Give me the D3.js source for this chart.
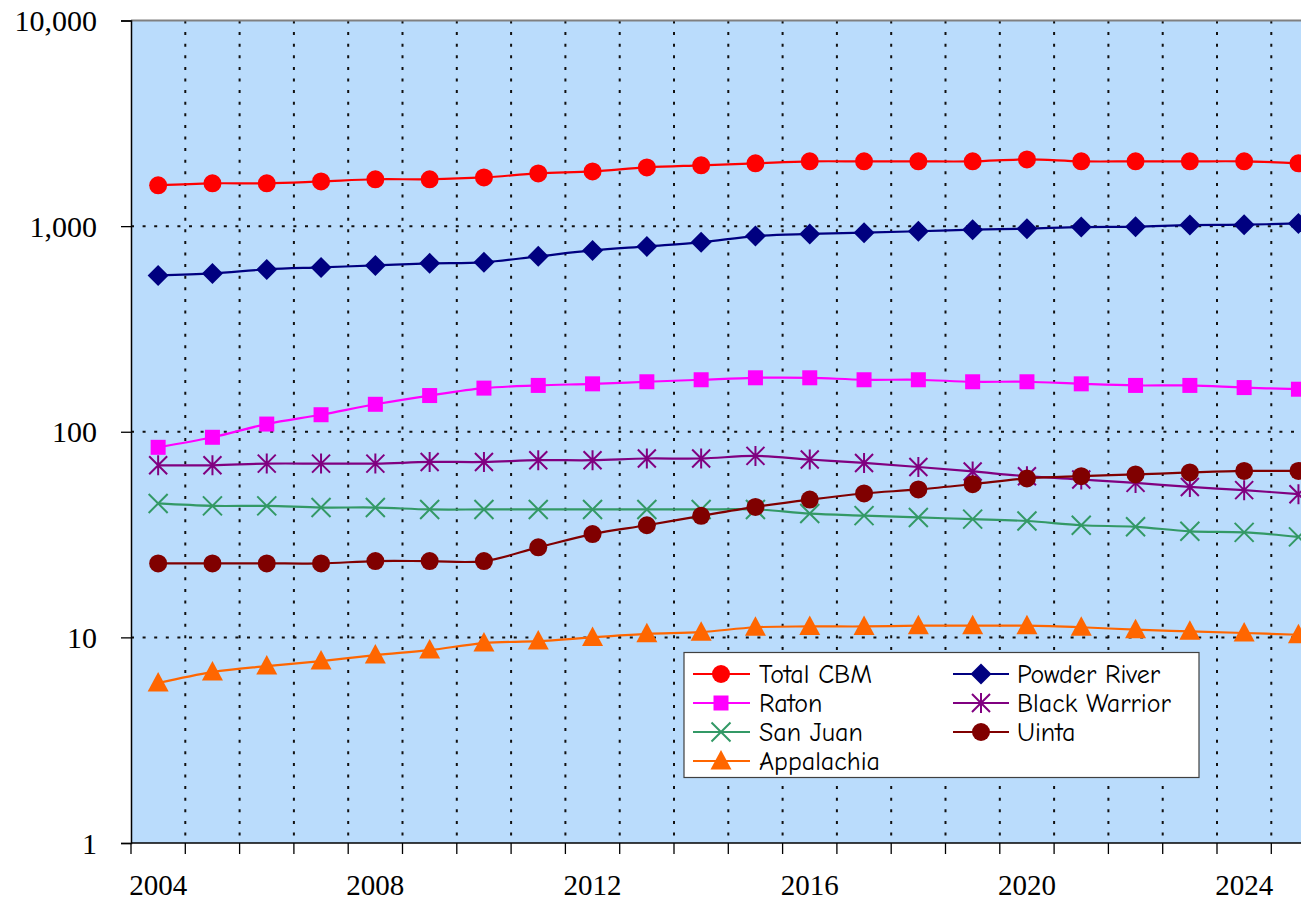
<!DOCTYPE html>
<html>
<head>
<meta charset="utf-8">
<script src="https://cdn.jsdelivr.net/npm/d3@7"></script>
<style>
  html, body { margin: 0; padding: 0; background: #ffffff; overflow: hidden; }
  svg { display: block; }
</style>
</head>
<body>
<svg id="chart" width="1301" height="903"></svg>
<script>
// ---------------- DATA ----------------
const years = [2004,2005,2006,2007,2008,2009,2010,2011,2012,2013,2014,2015,2016,2017,2018,2019,2020,2021,2022,2023,2024,2025];
const yearLabels = [2004, 2008, 2012, 2016, 2020, 2024];
const yTickValues = [1, 10, 100, 1000, 10000];

const totalCBM     = [1580,1615,1615,1650,1690,1690,1725,1805,1845,1930,1975,2020,2065,2065,2065,2065,2110,2065,2065,2065,2065,2020];
const powderRiver  = [576,589,616,630,644,659,667,713,762,797,834,895,916,929,944,961,972,989,994,1012,1016,1031];
const raton        = [84,94,109,121,136,150,163,168,171,175,179,183,183,179,179,175,175,171,168,168,164,161];
const blackWarrior = [68.7,68.7,70,70,70,71.3,71.3,72.7,72.7,74.1,74.1,76.3,73.3,70.5,67.4,64.1,60.8,58.6,56.4,53.9,52,49.7];
const sanJuan      = [44.8,43.6,43.6,42.8,42.8,41.9,41.9,41.9,41.9,41.9,41.9,41.9,40,39.1,38.3,37.6,36.8,35.1,34.5,32.8,32.4,30.8];
const uinta        = [22.9,22.9,22.9,22.9,23.5,23.5,23.5,27.4,31.8,35.1,39,43.1,46.8,50.1,52.4,55.6,59.3,60.8,62,63.4,64.5,64.5];
const appalachia   = [6.0,6.78,7.25,7.67,8.2,8.67,9.38,9.59,10.0,10.4,10.6,11.2,11.3,11.3,11.4,11.4,11.4,11.2,10.9,10.7,10.5,10.3];

const seriesNames  = ["Total CBM","Powder River","Raton","Black Warrior","San Juan","Uinta","Appalachia"];
const seriesValues = [totalCBM, powderRiver, raton, blackWarrior, sanJuan, uinta, appalachia];

// ---------------- STYLES ----------------
const seriesColors  = ["#ff0000","#000080","#ff00ff","#800080","#339966","#800000","#ff6600"];
const seriesMarkers = ["circle","diamond","square","asterisk","cross","circle","triangle"];

// ---------------- LAYOUT ----------------
const plotLeft = 131, plotTop = 20.5, plotBottom = 843, catWidth = 54.3;
const plotRight = plotLeft + catWidth * years.length;

const svg = d3.select("#chart");

const x = d3.scaleBand().domain(years).range([plotLeft, plotRight]).padding(0);
const y = d3.scaleLog().domain([1, 10000]).range([plotBottom, plotTop]);
const cx = d => x(d) + x.bandwidth() / 2;

// background
svg.append("rect")
  .attr("x", plotLeft).attr("y", plotTop)
  .attr("width", plotRight - plotLeft).attr("height", plotBottom - plotTop)
  .attr("fill", "#badcfc");

// grid lines
const grid = svg.append("g").attr("stroke", "#111").attr("stroke-width", 2)
  .attr("stroke-dasharray", "3,8.6").attr("fill", "none");
grid.selectAll("line.v").data(years.slice(1)).join("line")
  .attr("class", "v")
  .attr("x1", d => x(d)).attr("x2", d => x(d))
  .attr("y1", plotTop).attr("y2", plotBottom);
grid.selectAll("line.h").data([10, 100, 1000]).join("line")
  .attr("class", "h")
  .attr("x1", plotLeft).attr("x2", plotRight)
  .attr("y1", d => y(d)).attr("y2", d => y(d));

// top border
svg.append("line")
  .attr("x1", plotLeft).attr("x2", plotRight)
  .attr("y1", plotTop).attr("y2", plotTop)
  .attr("stroke", "#808080").attr("stroke-width", 2);

// ---------------- AXES ----------------
const yAxis = d3.axisLeft(y).tickValues(yTickValues).tickFormat(d3.format(",")).tickSize(10).tickPadding(24);
const gy = svg.append("g").attr("transform", `translate(${plotLeft},0)`).call(yAxis);
gy.select(".domain").attr("stroke", "#000").attr("stroke-width", 1.5);
gy.selectAll(".tick line").attr("stroke", "#000").attr("stroke-width", 1.3);
gy.selectAll(".tick text")
  .attr("font-family", "'Liberation Serif','Times New Roman',serif")
  .attr("font-size", 30).attr("fill", "#000").attr("dy", "0.34em");

// x axis line
svg.append("line")
  .attr("x1", plotLeft).attr("x2", plotRight)
  .attr("y1", plotBottom).attr("y2", plotBottom)
  .attr("stroke", "#000").attr("stroke-width", 1.5);
// x ticks at category boundaries
svg.append("g").selectAll("line").data(years).join("line")
  .attr("x1", d => x(d)).attr("x2", d => x(d))
  .attr("y1", plotBottom).attr("y2", plotBottom + 11)
  .attr("stroke", "#000").attr("stroke-width", 1.3);
// x labels
svg.append("g").selectAll("text").data(yearLabels).join("text")
  .attr("x", d => cx(d)).attr("y", 895)
  .attr("text-anchor", "middle")
  .attr("font-family", "'Liberation Serif','Times New Roman',serif")
  .attr("font-size", 29).attr("fill", "#000")
  .text(d => d);

// ---------------- MARKERS ----------------
function drawMarker(g, type, px, py, color) {
  if (type === "circle") {
    g.append("circle").attr("cx", px).attr("cy", py).attr("r", 9).attr("fill", color);
  } else if (type === "square") {
    g.append("rect").attr("x", px - 7.5).attr("y", py - 7.5).attr("width", 15).attr("height", 15).attr("fill", color);
  } else if (type === "diamond") {
    const s = 10.5;
    g.append("path").attr("d", `M${px},${py - s}L${px + s},${py}L${px},${py + s}L${px - s},${py}Z`).attr("fill", color);
  } else if (type === "triangle") {
    g.append("path").attr("d", `M${px},${py - 11}L${px + 10.5},${py + 8.5}L${px - 10.5},${py + 8.5}Z`).attr("fill", color);
  } else if (type === "asterisk") {
    const s = 10;
    g.append("path").attr("d",
      `M${px},${py - s}L${px},${py + s}M${px - s * 0.9},${py - s * 0.9}L${px + s * 0.9},${py + s * 0.9}M${px - s * 0.9},${py + s * 0.9}L${px + s * 0.9},${py - s * 0.9}`)
      .attr("stroke", color).attr("stroke-width", 2).attr("fill", "none");
  } else if (type === "cross") {
    const s = 9.5;
    g.append("path").attr("d",
      `M${px - s},${py - s}L${px + s},${py + s}M${px - s},${py + s}L${px + s},${py - s}`)
      .attr("stroke", color).attr("stroke-width", 2).attr("fill", "none");
  }
}

// ---------------- SERIES ----------------
const line = d3.line().x(d => cx(d.year)).y(d => y(d.value)).curve(d3.curveCatmullRom.alpha(0));

seriesValues.forEach((vals, i) => {
  const pts = years.map((yr, j) => ({ year: yr, value: vals[j] }));
  const g = svg.append("g");
  g.append("path").datum(pts)
    .attr("d", line)
    .attr("fill", "none")
    .attr("stroke", seriesColors[i])
    .attr("stroke-width", 2.2);
  pts.forEach(p => drawMarker(g, seriesMarkers[i], cx(p.year), y(p.value), seriesColors[i]));
});

// ---------------- LEGEND ----------------
const lg = svg.append("g");
lg.append("rect")
  .attr("x", 684).attr("y", 652.5).attr("width", 515).attr("height", 125)
  .attr("fill", "#fff").attr("stroke", "#404040").attr("stroke-width", 1.2);

const legendCols = [{ x1: 693, x2: 750, mx: 721, tx: 759 }, { x1: 953, x2: 1009, mx: 981, tx: 1017 }];
const legendRows = [674, 703, 732, 761];
seriesNames.forEach((name, i) => {
  const col = legendCols[i % 2];
  const ry = legendRows[Math.floor(i / 2)];
  lg.append("line").attr("x1", col.x1).attr("x2", col.x2).attr("y1", ry).attr("y2", ry)
    .attr("stroke", seriesColors[i]).attr("stroke-width", 2.2);
  drawMarker(lg, seriesMarkers[i], col.mx, ry, seriesColors[i]);
  lg.append("text").attr("x", col.tx).attr("y", ry).attr("dy", "0.36em")
    .attr("font-family", "'Comic Sans MS','Comic Neue','DejaVu Sans',sans-serif")
    .attr("font-size", 26).attr("fill", "#000")
    .text(name);
});
</script>
</body>
</html>
